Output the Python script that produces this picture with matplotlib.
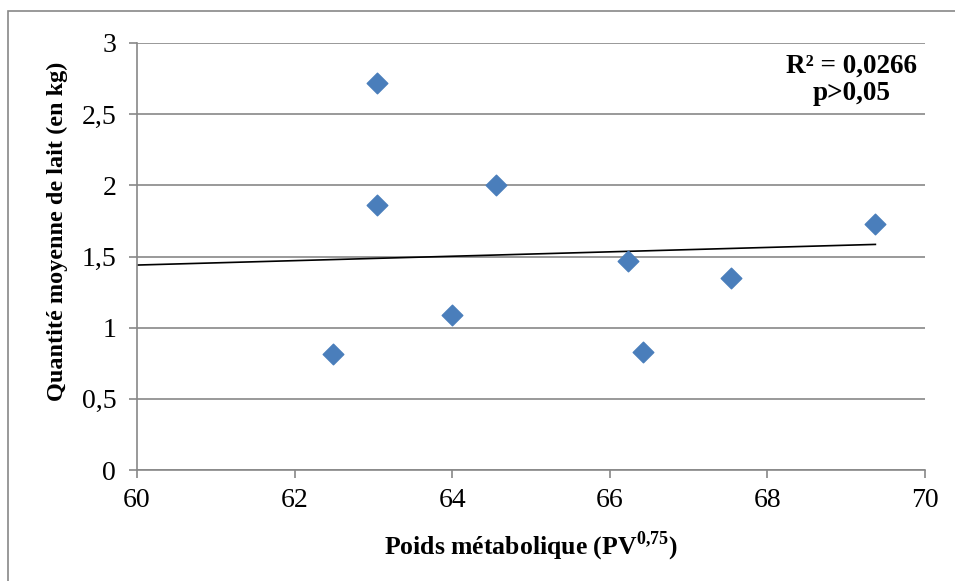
import numpy as np
import matplotlib.pyplot as plt
from matplotlib.patches import Rectangle

plt.rcParams['font.family'] = 'Liberation Serif'
plt.rcParams['mathtext.fontset'] = 'custom'
plt.rcParams['mathtext.rm'] = 'Liberation Serif'
plt.rcParams['mathtext.bf'] = 'Liberation Serif:bold'

# data
poids = [62.49, 63.05, 63.05, 64.0, 64.56, 66.23, 66.42, 67.54, 69.37]
lait = [0.815, 2.72, 1.86, 1.09, 2.0, 1.47, 0.83, 1.35, 1.73]
trend_x = [60, 69.37]
trend_y = [1.44, 1.585]
xticks = [60, 62, 64, 66, 68, 70]
yticks = [0, 0.5, 1, 1.5, 2, 2.5, 3]
ytick_labels = ['0', '0,5', '1', '1,5', '2', '2,5', '3']

fig = plt.figure(figsize=(9.55, 5.81), dpi=100)
ax = fig.add_axes([0.1435, 0.191, 0.8251, 0.735])

grey = '#888888'
ax.grid(axis='y', color=grey, lw=1.2)
ax.set_axisbelow(True)
ax.scatter(poids, lait, marker='D', s=110, color='#4A7EBB', zorder=3)
ax.plot(trend_x, trend_y, color='black', lw=1.2, zorder=2)

ax.set_xlim(60, 70)
ax.set_ylim(0, 3)
ax.set_xticks(xticks)
ax.set_yticks(yticks)
ax.set_yticklabels(ytick_labels)
for s in ['top', 'right']:
    ax.spines[s].set_visible(False)
for s in ['left', 'bottom']:
    ax.spines[s].set_color(grey)
    ax.spines[s].set_linewidth(1.2)
ax.tick_params(direction='out', length=6, width=1.2, color=grey, labelsize=20)
ax.tick_params(axis='x', pad=7)
ax.tick_params(axis='y', pad=9)

ax.set_xlabel(r'Poids métabolique (PV$^{\mathbf{0{,}75}}$)', fontsize=18.5, fontweight='bold')
ax.set_ylabel('Quantité moyenne de lait (en kg)', fontsize=17.5, fontweight='bold')
ax.xaxis.set_label_coords(0.5, -0.14)
ax.yaxis.set_label_coords(-0.087, 0.56)

ax.text(0.907, 0.975, 'R² = 0,0266\np>0,05', transform=ax.transAxes, ha='center', va='top',
        fontsize=19.5, fontweight='bold', linespacing=1.1)

# frame around the chart
fig.patches.append(Rectangle((8/955, -0.1), 1.2, 1.1 - 11/581, transform=fig.transFigure,
                             fill=False, edgecolor=grey, lw=1.2))

fig.savefig('out.png', dpi=100)
